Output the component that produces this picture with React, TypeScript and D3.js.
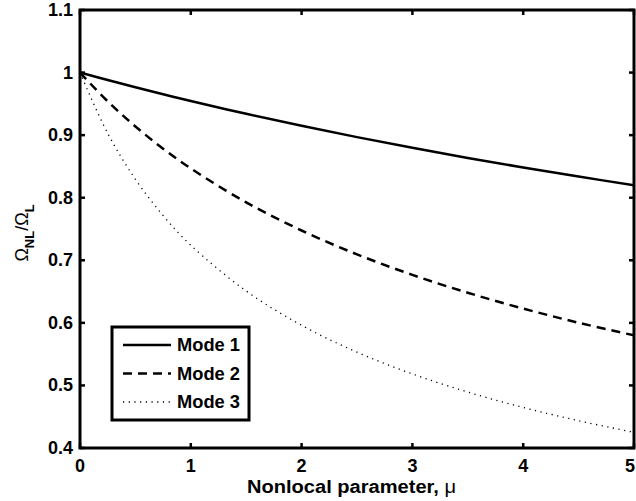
import React from "react";
import * as d3 from "d3";

const mu = [0, 0.25, 0.5, 0.75, 1, 1.5, 2, 2.5, 3, 3.5, 4, 4.5, 5];
const mode1 = [1, 0.988, 0.9765, 0.9654, 0.9546, 0.9341, 0.9149, 0.8968, 0.8797, 0.8636, 0.8483, 0.8338, 0.82];
const mode2 = [1, 0.954, 0.9139, 0.8784, 0.8468, 0.7926, 0.7476, 0.7095, 0.6767, 0.6481, 0.6228, 0.6002, 0.58];
const mode3 = [1, 0.9029, 0.8295, 0.7715, 0.7241, 0.6509, 0.5961, 0.5532, 0.5184, 0.4894, 0.4648, 0.4436, 0.425];
const xTicks = [0, 1, 2, 3, 4, 5];
const yTicks = [0.4, 0.5, 0.6, 0.7, 0.8, 0.9, 1, 1.1];
const seriesNames = ["Mode 1", "Mode 2", "Mode 3"];

export default function App() {
  const W = 636, H = 501;
  const L = 80, R = 634, T = 10, B = 448;
  const x = d3.scaleLinear().domain([0, 5]).range([L, R]);
  const y = d3.scaleLinear().domain([0.4, 1.1]).range([B, T]);
  const line = (vals: number[]) =>
    d3.line<number>().x((_, i) => x(mu[i])).y((v) => y(v)).curve(d3.curveCatmullRom.alpha(0.5))(vals) || "";
  const series = [
    { vals: mode1, dash: undefined, w: 2.5 },
    { vals: mode2, dash: "9,6", w: 2.5 },
    { vals: mode3, dash: "1.2,4.5", w: 1.3 },
  ];
  const font = "'Liberation Sans', Arial, Helvetica, sans-serif";
  const tl = 5;
  return (
    <svg width={W} height={H} style={{ position: "absolute", left: 0, top: 0, background: "#fff" }} fontFamily={font}>
      <rect x={0} y={0} width={W} height={H} fill="#fff" />
      <defs>
        <clipPath id="clip"><rect x={L} y={T} width={R - L} height={B - T} /></clipPath>
      </defs>
      <g clipPath="url(#clip)">
        {series.map((s, i) => (
          <path key={i} d={line(s.vals)} fill="none" stroke="#000" strokeWidth={s.w} strokeDasharray={s.dash} />
        ))}
      </g>
      {xTicks.map((t) => (
        <g key={"x" + t}>
          <line x1={x(t)} x2={x(t)} y1={B} y2={B - tl} stroke="#000" strokeWidth={2.5} />
          <line x1={x(t)} x2={x(t)} y1={T} y2={T + tl} stroke="#000" strokeWidth={2.5} />
          <text x={Math.min(x(t), 630)} y={B + 24} textAnchor="middle" fontSize={18} fontWeight={700}>{t}</text>
        </g>
      ))}
      {yTicks.map((t) => (
        <g key={"y" + t}>
          <line x1={L} x2={L + tl} y1={y(t)} y2={y(t)} stroke="#000" strokeWidth={2.5} />
          <line x1={R} x2={R - tl} y1={y(t)} y2={y(t)} stroke="#000" strokeWidth={2.5} />
          <text x={73} y={y(t) + 6} textAnchor="end" fontSize={18} fontWeight={700}>{t}</text>
        </g>
      ))}
      <rect x={L} y={T} width={R - L} height={B - T} fill="none" stroke="#000" strokeWidth={3} />
      <text x={247} y={493} fontSize={18} fontWeight={700} textLength={209} lengthAdjust="spacingAndGlyphs">
        Nonlocal parameter, <tspan fontWeight="normal">μ</tspan>
      </text>
      <text transform={`translate(28,${(T + B) / 2 + 4}) rotate(-90)`} textAnchor="middle" fontSize={18}>
        <tspan>Ω</tspan>
        <tspan fontSize={13} fontWeight={700} dy={6}>NL</tspan>
        <tspan dy={-6}>/Ω</tspan>
        <tspan fontSize={13} fontWeight={700} dy={6}>L</tspan>
      </text>
      <rect x={112} y={327} width={137} height={93} fill="#fff" stroke="#000" strokeWidth={3} />
      {series.map((s, i) => (
        <g key={"l" + i}>
          <line x1={123} x2={171} y1={345 + i * 28.5} y2={345 + i * 28.5} stroke="#000" strokeWidth={s.w} strokeDasharray={s.dash} />
          <text x={177} y={351 + i * 28.5} fontSize={18} fontWeight={700} textLength={63} lengthAdjust="spacingAndGlyphs">{seriesNames[i]}</text>
        </g>
      ))}
    </svg>
  );
}
